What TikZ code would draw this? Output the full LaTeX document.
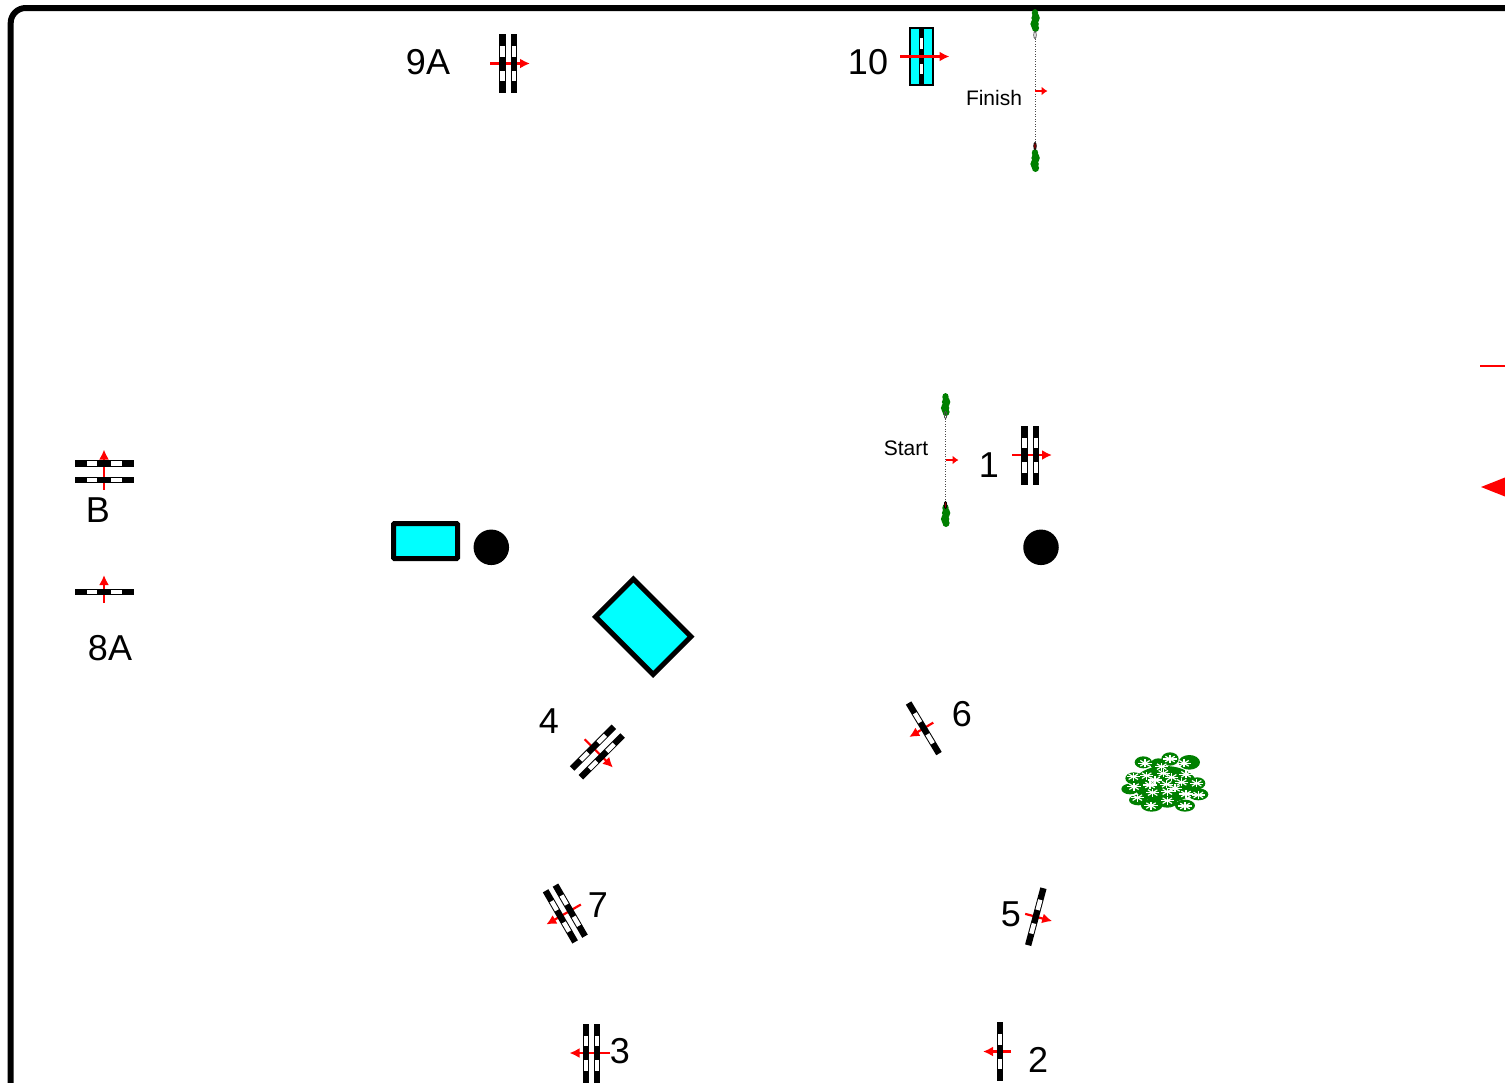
\documentclass[tikz,border=0pt]{standalone}
\usepackage{xcolor}
\usepackage{fontspec}
\setmainfont{Liberation Sans}
\usetikzlibrary{arrows.meta,shapes.geometric}

\definecolor{tollgreen}{RGB}{0,128,0}
\definecolor{plazacyan}{RGB}{0,255,255}

\tikzset{
    gatebar/.style={fill=black},
    gatewin/.style={fill=white},
    gatearrow/.style={draw=red, line width=2.2pt, -{Latex[length=10pt,width=10pt]}},
    finisharrow/.style={draw=red, line width=2.2pt, -{Latex[length=6pt,width=9pt]}},
    biglabel/.style={font=\fontsize{36}{36}\selectfont, inner sep=0pt},
    smalllabel/.style={font=\fontsize{21}{21}\selectfont, inner sep=0pt},
    cyanbox/.style={draw, fill=plazacyan, line width=5pt, inner sep=0pt},
    rounddot/.style={circle, fill=black, minimum size=35.5pt, inner sep=0pt},
    flake/.style={draw=white, line width=1.2pt},
    polemark/.style={ellipse, line width=0.8pt, minimum width=2.5pt, minimum height=7pt, inner sep=0pt},
    onebar/.pic={
        \fill[gatebar] (-3.2,-29.5) rectangle (3.2,29.5);
        \foreach \w in {-17.5,7} {
            \fill[gatewin] (-2.2,\w) rectangle (2.2,\w+10.5);
        }
    },
    singlegate/.pic={
        \coordinate (-tail) at (-11,0);
        \coordinate (-head) at (17,0);
        \draw[gatearrow] (-tail) -- (-head);
        \pic[transform shape] at (0,0) {onebar};
    },
    doublegate/.pic={
        \coordinate (-tail) at (-18,0);
        \coordinate (-head) at (22,0);
        \draw[gatearrow] (-tail) -- (-head);
        \pic[transform shape] at (-#1,0) {onebar};
        \pic[transform shape] at (#1,0) {onebar};
    },
    marker/.pic={
        \fill[tollgreen] (0,-8) ellipse (3.2 and 4);
        \fill[tollgreen] (0.6,-3) ellipse (4.2 and 5);
        \fill[tollgreen] (-0.4,3) ellipse (4.2 and 5);
        \fill[tollgreen] (0.5,7) ellipse (3.6 and 4);
    }
}

\begin{document}
\begin{tikzpicture}[x=1pt, y=-1pt]

    \clip (0,0) rectangle (1505,1082);

    % course boundary
    \draw[line width=6pt, rounded corners=15pt] (1540,8) -- (10.7,8) -- (10.7,1120);

    % gates
    \pic (g9A) at (508,63.5) {doublegate=5.7};
    \pic (g1) at (1030,455) {doublegate=5.7};
    \pic[rotate=180] (g3) at (591.5,1053) {doublegate=5.7};
    \pic[rotate=-45] (g4) at (597.4,752) {doublegate=6.2};
    \pic[rotate=210] (g7) at (565.3,913.5) {doublegate=5.7};
    \pic[rotate=90] (gB) at (104,471.5) {doublegate=8.2};
    \pic[rotate=180] (g2) at (1000,1051.5) {singlegate};
    \pic[rotate=-15] (g5) at (1035.8,916.7) {singlegate};
    \pic[rotate=211] (g6) at (923.8,728.3) {singlegate};
    \pic[rotate=90] (g8A) at (104,592) {singlegate};

    % gate 10 on its cyan plate
    \node[draw, fill=plazacyan, line width=1.6pt, minimum width=22.5pt, minimum height=57pt, inner sep=0pt] (plate) at (921.5,56.5) {};
    \fill (919.2,28) rectangle (923.8,85);
    \fill[white] (919.6,38.3) rectangle (923.4,48.5);
    \fill[white] (919.6,63.5) rectangle (923.4,74);
    \coordinate (tail10) at (900,56.5);
    \coordinate (head10) at (949.5,56.5);
    \draw[gatearrow] (tail10) -- (head10);

    % start and finish
    \pic (f1) at (1035,21) {marker};
    \pic (f2) at (1035,161) {marker};
    \node[polemark, draw=black!70] (f3) at (1035,35) {};
    \node[polemark, draw=black, fill=red!60!black] (f4) at (1035,146) {};
    \draw[black!70, line width=1pt, dash pattern=on 1pt off 1.5pt] (f3) -- (f4);
    \coordinate (ft) at (1035,91);
    \coordinate (fh) at (1047.5,91);
    \draw[finisharrow] (ft) -- (fh);

    \pic (s1) at (945.5,405) {marker};
    \pic (s2) at (945.5,516) {marker};
    \node[polemark, draw=black!70] (s3) at (945.5,415) {};
    \node[polemark, draw=black, fill=red!60!black] (s4) at (945.5,505) {};
    \draw[black!70, line width=1pt, dash pattern=on 1pt off 1.5pt] (s3) -- (s4);
    \coordinate (st) at (946,460);
    \coordinate (sh) at (958.5,460);
    \draw[finisharrow] (st) -- (sh);

    % obstacles
    \node[cyanbox, rounded corners=1pt, minimum width=64pt, minimum height=35pt] (box1) at (425.5,541) {};
    \node[cyanbox, minimum width=81.5pt, minimum height=53.5pt, rotate=-45] (box2) at (643.3,626.7) {};
    \node[rounddot] (dot1) at (491.3,547.3) {};
    \node[rounddot] (dot2) at (1041,547.3) {};

    % bush
    \begin{scope}[shift={(1110,745)}, x=0.3333pt, y=-0.3333pt]
        \fill[tollgreen] (165,118) ellipse (95 and 55);
        \foreach \x/\y/\rx/\ry in {100/52/26/18, 145/58/24/18, 180/42/26/20, 238/52/32/22, 72/100/26/18,
            60/132/26/16, 262/115/24/18, 265/148/30/18, 85/165/28/16, 125/182/32/18, 172/170/30/18, 225/182/30/18} {
            \fill[tollgreen] (\x,\y) ellipse [x radius=\rx, y radius=\ry];
        }
        \foreach \x/\y in {105/55, 180/42, 222/55, 155/65, 160/85, 70/95, 110/92, 135/105, 185/97, 228/88,
            120/120, 72/125, 170/118, 215/112, 260/115, 195/130, 128/143, 172/140, 228/147, 265/150,
            82/158, 172/167, 123/182, 225/183} {
            \foreach \a in {0,45,90,135} {
                \draw[flake] (\x,\y) ++(\a:20 and 12) -- ++(\a+180:40 and 24);
            }
        }
    \end{scope}

    % red tips at the edge
    \coordinate (edge1) at (1480,366);
    \coordinate (edge2) at (1510,366);
    \draw[draw=red, line width=1.5pt] (edge1) -- (edge2);
    \fill[red] (1481,487) -- (1510,475.5) -- (1510,498.5) -- cycle;

    % labels
    \node[biglabel] (l9A) at (428,62) {9A};
    \node[biglabel] (l10) at (868,62) {10};
    \node[biglabel] (l1) at (989,465) {1};
    \node[biglabel] (l2) at (1038,1060) {2};
    \node[biglabel] (l3) at (620,1051) {3};
    \node[biglabel] (l4) at (549,721) {4};
    \node[biglabel] (l5) at (1011,914) {5};
    \node[biglabel] (l6) at (962,714) {6};
    \node[biglabel] (l7) at (598,905) {7};
    \node[biglabel] (lB) at (98,510) {B};
    \node[biglabel] (l8A) at (110,648) {8A};
    \node[smalllabel] (lfin) at (994,98) {Finish};
    \node[smalllabel] (lsta) at (906,448) {Start};

\end{tikzpicture}
\end{document}
